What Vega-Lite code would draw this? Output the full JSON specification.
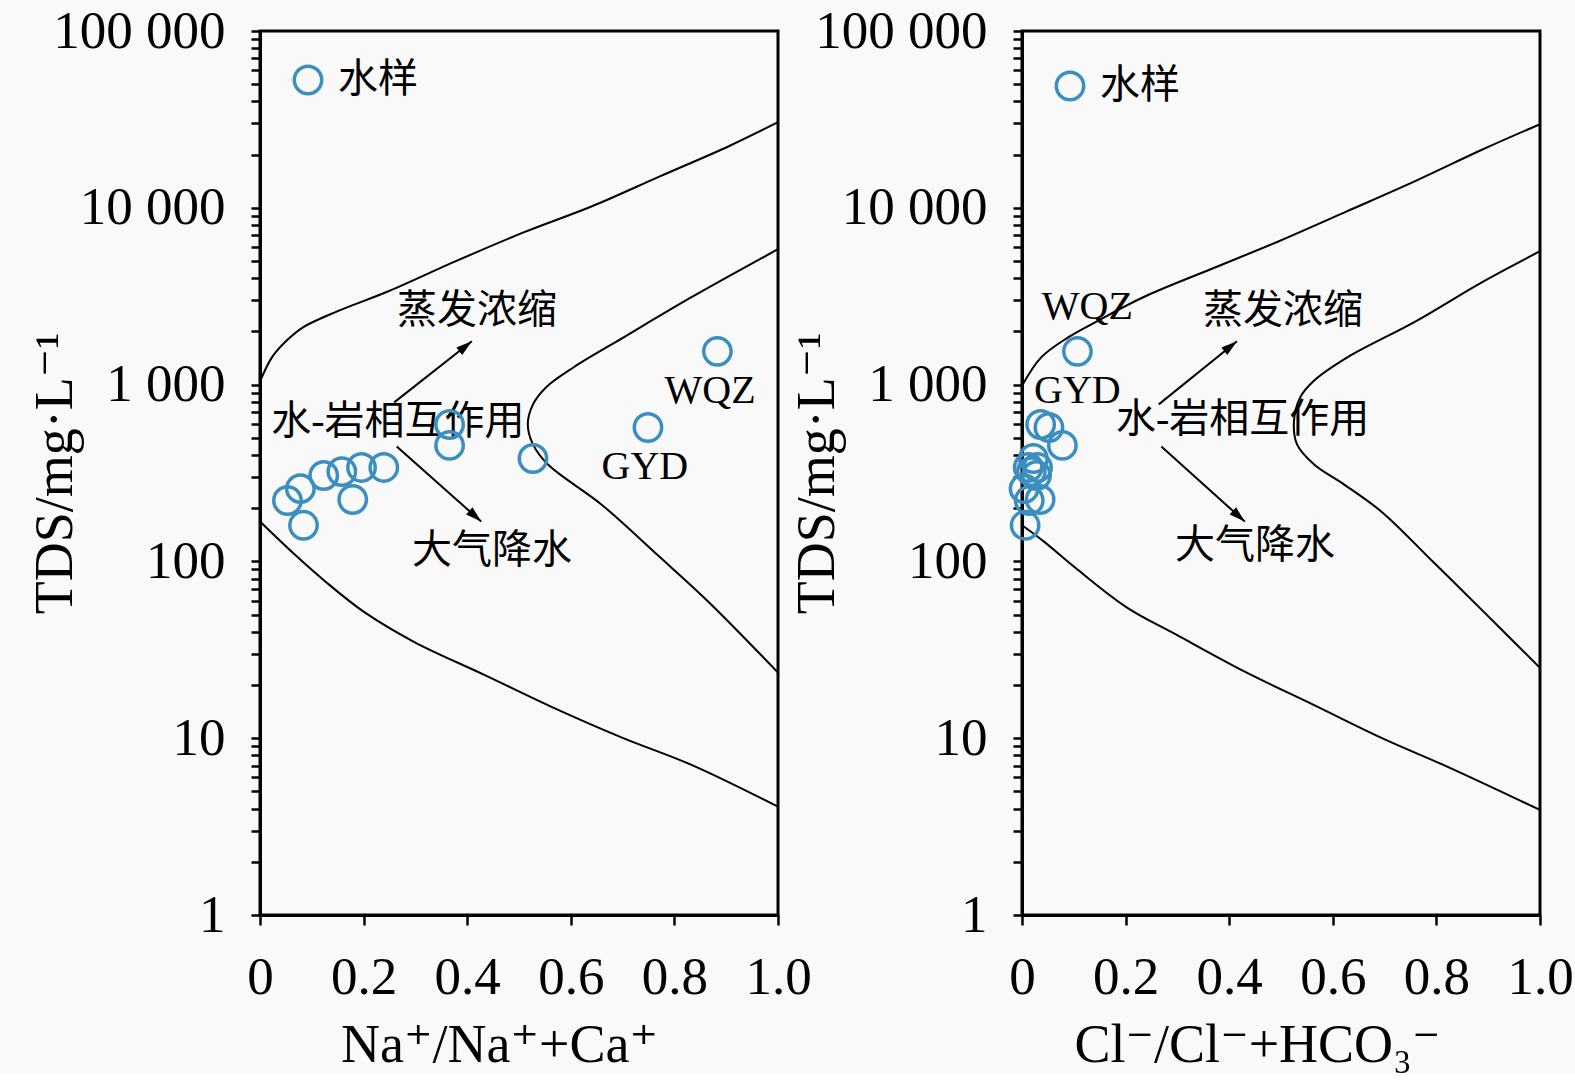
{
  "$schema": "https://vega.github.io/schema/vega-lite/v6.json",
  "background": "#f9f9f9",
  "padding": {"left": 26, "top": 3, "right": 0, "bottom": 0},
  "bounds": "flush",
  "spacing": 244,
  "config": {
    "view": {"stroke": "black", "strokeWidth": 3, "fill": null},
    "axis": {
      "grid": false,
      "domainColor": "black",
      "domainWidth": 3,
      "tickColor": "black",
      "tickWidth": 2.5,
      "labelColor": "black",
      "titleColor": "black",
      "labelFont": "Liberation Serif",
      "titleFont": "Liberation Serif, DejaVu Serif",
      "labelFontSize": 53,
      "titleFontSize": 54,
      "titleFontWeight": "normal",
      "labelOverlap": false,
      "labelFlush": false
    },
    "text": {"font": "Liberation Serif, Noto Sans CJK SC", "fontSize": 40, "color": "black"}
  },
  "datasets": {
    "samples": [
      {"panel": "na", "site": "S1", "x": 0.053, "tds": 221},
      {"panel": "na", "site": "S2", "x": 0.078, "tds": 258},
      {"panel": "na", "site": "S3", "x": 0.084, "tds": 160},
      {"panel": "na", "site": "S4", "x": 0.123, "tds": 306},
      {"panel": "na", "site": "S5", "x": 0.158, "tds": 322},
      {"panel": "na", "site": "S6", "x": 0.179, "tds": 224},
      {"panel": "na", "site": "S7", "x": 0.196, "tds": 340},
      {"panel": "na", "site": "S8", "x": 0.239, "tds": 340},
      {"panel": "na", "site": "S9", "x": 0.366, "tds": 595},
      {"panel": "na", "site": "S10", "x": 0.366, "tds": 453},
      {"panel": "na", "site": "S11", "x": 0.527, "tds": 382},
      {"panel": "na", "site": "GYD", "x": 0.749, "tds": 572},
      {"panel": "na", "site": "WQZ", "x": 0.883, "tds": 1542},
      {"panel": "cl", "site": "S1", "x": 0.014, "tds": 221},
      {"panel": "cl", "site": "S2", "x": 0.004, "tds": 258},
      {"panel": "cl", "site": "S3", "x": 0.006, "tds": 160},
      {"panel": "cl", "site": "S4", "x": 0.028, "tds": 306},
      {"panel": "cl", "site": "S5", "x": 0.018, "tds": 322},
      {"panel": "cl", "site": "S6", "x": 0.035, "tds": 224},
      {"panel": "cl", "site": "S7", "x": 0.030, "tds": 340},
      {"panel": "cl", "site": "S8", "x": 0.012, "tds": 340},
      {"panel": "cl", "site": "S9", "x": 0.036, "tds": 595},
      {"panel": "cl", "site": "S10", "x": 0.078, "tds": 453},
      {"panel": "cl", "site": "S11", "x": 0.022, "tds": 382},
      {"panel": "cl", "site": "GYD", "x": 0.052, "tds": 572},
      {"panel": "cl", "site": "WQZ", "x": 0.107, "tds": 1542}
    ],
    "curves": [
      {"panel": "na", "curve": "upper", "i": 0, "x": 0, "tds": 1042},
      {"panel": "na", "curve": "upper", "i": 1, "x": 0.023, "tds": 1426},
      {"panel": "na", "curve": "upper", "i": 2, "x": 0.05, "tds": 1758},
      {"panel": "na", "curve": "upper", "i": 3, "x": 0.083, "tds": 2108},
      {"panel": "na", "curve": "upper", "i": 4, "x": 0.149, "tds": 2596},
      {"panel": "na", "curve": "upper", "i": 5, "x": 0.248, "tds": 3373},
      {"panel": "na", "curve": "upper", "i": 6, "x": 0.378, "tds": 4990},
      {"panel": "na", "curve": "upper", "i": 7, "x": 0.51, "tds": 7280},
      {"panel": "na", "curve": "upper", "i": 8, "x": 0.641, "tds": 10200},
      {"panel": "na", "curve": "upper", "i": 9, "x": 0.773, "tds": 15100},
      {"panel": "na", "curve": "upper", "i": 10, "x": 0.905, "tds": 22300},
      {"panel": "na", "curve": "upper", "i": 11, "x": 1.0, "tds": 30500},
      {"panel": "na", "curve": "inner", "i": 0, "x": 1.0, "tds": 5830},
      {"panel": "na", "curve": "inner", "i": 1, "x": 0.833, "tds": 3120},
      {"panel": "na", "curve": "inner", "i": 2, "x": 0.702, "tds": 1850},
      {"panel": "na", "curve": "inner", "i": 3, "x": 0.605, "tds": 1250},
      {"panel": "na", "curve": "inner", "i": 4, "x": 0.552, "tds": 964},
      {"panel": "na", "curve": "inner", "i": 5, "x": 0.527, "tds": 773},
      {"panel": "na", "curve": "inner", "i": 6, "x": 0.517, "tds": 595},
      {"panel": "na", "curve": "inner", "i": 7, "x": 0.527, "tds": 459},
      {"panel": "na", "curve": "inner", "i": 8, "x": 0.556, "tds": 353},
      {"panel": "na", "curve": "inner", "i": 9, "x": 0.659, "tds": 210},
      {"panel": "na", "curve": "inner", "i": 10, "x": 0.767, "tds": 109},
      {"panel": "na", "curve": "inner", "i": 11, "x": 0.866, "tds": 59},
      {"panel": "na", "curve": "inner", "i": 12, "x": 1.0, "tds": 23.5},
      {"panel": "na", "curve": "lower", "i": 0, "x": 0, "tds": 168},
      {"panel": "na", "curve": "lower", "i": 1, "x": 0.066, "tds": 110},
      {"panel": "na", "curve": "lower", "i": 2, "x": 0.126, "tds": 77},
      {"panel": "na", "curve": "lower", "i": 3, "x": 0.2, "tds": 52},
      {"panel": "na", "curve": "lower", "i": 4, "x": 0.298, "tds": 35},
      {"panel": "na", "curve": "lower", "i": 5, "x": 0.432, "tds": 22.9},
      {"panel": "na", "curve": "lower", "i": 6, "x": 0.566, "tds": 14.9},
      {"panel": "na", "curve": "lower", "i": 7, "x": 0.7, "tds": 10.05},
      {"panel": "na", "curve": "lower", "i": 8, "x": 0.833, "tds": 7.07},
      {"panel": "na", "curve": "lower", "i": 9, "x": 1.0, "tds": 4.1},
      {"panel": "cl", "curve": "upper", "i": 0, "x": 0, "tds": 985},
      {"panel": "cl", "curve": "upper", "i": 1, "x": 0.037, "tds": 1426},
      {"panel": "cl", "curve": "upper", "i": 2, "x": 0.089, "tds": 1850},
      {"panel": "cl", "curve": "upper", "i": 3, "x": 0.141, "tds": 2250},
      {"panel": "cl", "curve": "upper", "i": 4, "x": 0.234, "tds": 3120},
      {"panel": "cl", "curve": "upper", "i": 5, "x": 0.364, "tds": 4490},
      {"panel": "cl", "curve": "upper", "i": 6, "x": 0.496, "tds": 6470},
      {"panel": "cl", "curve": "upper", "i": 7, "x": 0.628, "tds": 9570},
      {"panel": "cl", "curve": "upper", "i": 8, "x": 0.76, "tds": 14200},
      {"panel": "cl", "curve": "upper", "i": 9, "x": 0.891, "tds": 21500},
      {"panel": "cl", "curve": "upper", "i": 10, "x": 1.0, "tds": 29700},
      {"panel": "cl", "curve": "inner", "i": 0, "x": 1.0, "tds": 5680},
      {"panel": "cl", "curve": "inner", "i": 1, "x": 0.891, "tds": 3840},
      {"panel": "cl", "curve": "inner", "i": 2, "x": 0.76, "tds": 2280},
      {"panel": "cl", "curve": "inner", "i": 3, "x": 0.628, "tds": 1426},
      {"panel": "cl", "curve": "inner", "i": 4, "x": 0.562, "tds": 1042},
      {"panel": "cl", "curve": "inner", "i": 5, "x": 0.537, "tds": 847},
      {"panel": "cl", "curve": "inner", "i": 6, "x": 0.525, "tds": 619},
      {"panel": "cl", "curve": "inner", "i": 7, "x": 0.531, "tds": 459},
      {"panel": "cl", "curve": "inner", "i": 8, "x": 0.564, "tds": 353},
      {"panel": "cl", "curve": "inner", "i": 9, "x": 0.622, "tds": 272},
      {"panel": "cl", "curve": "inner", "i": 10, "x": 0.694, "tds": 191},
      {"panel": "cl", "curve": "inner", "i": 11, "x": 0.793, "tds": 99.8},
      {"panel": "cl", "curve": "inner", "i": 12, "x": 0.891, "tds": 52},
      {"panel": "cl", "curve": "inner", "i": 13, "x": 1.0, "tds": 25},
      {"panel": "cl", "curve": "lower", "i": 0, "x": 0, "tds": 160},
      {"panel": "cl", "curve": "lower", "i": 1, "x": 0.043, "tds": 129},
      {"panel": "cl", "curve": "lower", "i": 2, "x": 0.103, "tds": 92},
      {"panel": "cl", "curve": "lower", "i": 3, "x": 0.202, "tds": 55},
      {"panel": "cl", "curve": "lower", "i": 4, "x": 0.298, "tds": 38.5},
      {"panel": "cl", "curve": "lower", "i": 5, "x": 0.43, "tds": 23.8},
      {"panel": "cl", "curve": "lower", "i": 6, "x": 0.562, "tds": 15.5},
      {"panel": "cl", "curve": "lower", "i": 7, "x": 0.694, "tds": 10.05},
      {"panel": "cl", "curve": "lower", "i": 8, "x": 0.826, "tds": 6.8},
      {"panel": "cl", "curve": "lower", "i": 9, "x": 1.0, "tds": 3.93}
    ],
    "arrows": [
      {"panel": "na", "arrow": "evap", "i": 0, "x": 0.259, "tds": 793},
      {"panel": "na", "arrow": "evap", "i": 1, "x": 0.409, "tds": 1757},
      {"panel": "na", "arrow": "rain", "i": 0, "x": 0.264, "tds": 447},
      {"panel": "na", "arrow": "rain", "i": 1, "x": 0.427, "tds": 168},
      {"panel": "cl", "arrow": "evap", "i": 0, "x": 0.264, "tds": 773},
      {"panel": "cl", "arrow": "evap", "i": 1, "x": 0.415, "tds": 1757},
      {"panel": "cl", "arrow": "rain", "i": 0, "x": 0.269, "tds": 447},
      {"panel": "cl", "arrow": "rain", "i": 1, "x": 0.43, "tds": 168}
    ],
    "notes": [
      {"panel": "na", "text": "蒸发浓缩", "x": 0.419, "tds": 2596},
      {"panel": "na", "text": "水-岩相互作用", "x": 0.266, "tds": 611},
      {"panel": "na", "text": "大气降水", "x": 0.448, "tds": 114},
      {"panel": "na", "text": "WQZ", "x": 0.869, "tds": 915},
      {"panel": "na", "text": "GYD", "x": 0.743, "tds": 344},
      {"panel": "cl", "text": "WQZ", "x": 0.126, "tds": 2736},
      {"panel": "cl", "text": "GYD", "x": 0.107, "tds": 915},
      {"panel": "cl", "text": "蒸发浓缩", "x": 0.504, "tds": 2596},
      {"panel": "cl", "text": "水-岩相互作用", "x": 0.426, "tds": 627},
      {"panel": "cl", "text": "大气降水", "x": 0.45, "tds": 123}
    ]
  },
  "resolve": {"scale": {"color": "independent"}, "legend": {"color": "independent"}},
  "hconcat": [
    {
      "width": 518,
      "height": 884,
      "encoding": {
        "x": {
          "field": "x",
          "type": "quantitative",
          "scale": {"domain": [0, 1], "nice": false, "zero": false},
          "axis": {
            "title": "Na⁺/Na⁺+Ca⁺",
            "values": [0, 0.2, 0.4, 0.6, 0.8, 1],
            "labelExpr": "datum.value == 0 ? '0' : format(datum.value, '.1f')",
            "tickSize": 10,
            "labelPadding": 26,
            "titleX": 239,
            "titleY": 130,
            "titleAlign": "center",
            "titleBaseline": "middle"
          }
        },
        "y": {
          "field": "tds",
          "type": "quantitative",
          "scale": {"type": "log", "domain": [1, 100000], "nice": false},
          "axis": {
            "title": "TDS/mg·L⁻¹",
            "values": [1, 2, 3, 4, 5, 6, 7, 8, 9, 10, 20, 30, 40, 50, 60, 70, 80, 90, 100, 200, 300, 400, 500, 600, 700, 800, 900, 1000, 2000, 3000, 4000, 5000, 6000, 7000, 8000, 9000, 10000, 20000, 30000, 40000, 50000, 60000, 70000, 80000, 90000, 100000],
            "labelExpr": "datum.value == 100000 ? '100 000' : datum.value == 10000 ? '10 000' : datum.value == 1000 ? '1 000' : datum.value == 100 ? '100' : datum.value == 10 ? '10' : datum.value == 1 ? '1' : ''",
            "tickSize": 9,
            "labelPadding": 26,
            "titleX": -205,
            "titleY": 442,
            "titleAngle": 270,
            "titleAlign": "center",
            "titleBaseline": "middle"
          }
        }
      },
      "layer": [
        {
          "data": {"name": "curves"},
          "transform": [{"filter": "datum.panel == 'na'"}],
          "mark": {"type": "line", "color": "black", "strokeWidth": 2, "interpolate": "catmull-rom"},
          "encoding": {"detail": {"field": "curve"}, "order": {"field": "i"}}
        },
        {
          "data": {"name": "arrows"},
          "transform": [{"filter": "datum.panel == 'na'"}],
          "mark": {"type": "line", "color": "black", "strokeWidth": 2},
          "encoding": {"detail": {"field": "arrow"}, "order": {"field": "i"}}
        },
        {
          "data": {"name": "arrows"},
          "transform": [{"filter": "datum.panel == 'na' && datum.arrow == 'evap' && datum.i == 1"}],
          "mark": {"type": "point", "shape": "M0,0L0.6,2L-0.6,2Z", "angle": 52, "size": 256, "filled": true, "color": "black", "opacity": 1}
        },
        {
          "data": {"name": "arrows"},
          "transform": [{"filter": "datum.panel == 'na' && datum.arrow == 'rain' && datum.i == 1"}],
          "mark": {"type": "point", "shape": "M0,0L0.6,2L-0.6,2Z", "angle": 132, "size": 256, "filled": true, "color": "black", "opacity": 1}
        },
        {
          "data": {"name": "notes"},
          "transform": [{"filter": "datum.panel == 'na'"}],
          "mark": {"type": "text", "align": "center", "baseline": "middle"},
          "encoding": {"text": {"field": "text"}}
        },
        {
          "data": {"name": "samples"},
          "transform": [{"filter": "datum.panel == 'na'"}],
          "mark": {"type": "point", "shape": "circle", "filled": false, "size": 750, "strokeWidth": 3.5, "opacity": 1},
          "encoding": {
            "color": {
              "datum": "水样",
              "type": "nominal",
              "scale": {"range": ["#3b8fc0"]},
              "legend": {
                "title": null,
                "orient": "none",
                "legendX": 28,
                "legendY": 29,
                "labelFont": "Noto Sans CJK SC",
                "labelFontSize": 40,
                "labelColor": "black",
                "symbolSize": 750,
                "symbolStrokeWidth": 3.5,
                "symbolType": "circle",
                "labelOffset": 10
              }
            }
          }
        }
      ]
    },
    {
      "width": 518,
      "height": 884,
      "encoding": {
        "x": {
          "field": "x",
          "type": "quantitative",
          "scale": {"domain": [0, 1], "nice": false, "zero": false},
          "axis": {
            "title": "Cl⁻/Cl⁻+HCO₃⁻",
            "values": [0, 0.2, 0.4, 0.6, 0.8, 1],
            "labelExpr": "datum.value == 0 ? '0' : format(datum.value, '.1f')",
            "tickSize": 10,
            "labelPadding": 26,
            "titleX": 235,
            "titleY": 130,
            "titleAlign": "center",
            "titleBaseline": "middle"
          }
        },
        "y": {
          "field": "tds",
          "type": "quantitative",
          "scale": {"type": "log", "domain": [1, 100000], "nice": false},
          "axis": {
            "title": "TDS/mg·L⁻¹",
            "values": [1, 2, 3, 4, 5, 6, 7, 8, 9, 10, 20, 30, 40, 50, 60, 70, 80, 90, 100, 200, 300, 400, 500, 600, 700, 800, 900, 1000, 2000, 3000, 4000, 5000, 6000, 7000, 8000, 9000, 10000, 20000, 30000, 40000, 50000, 60000, 70000, 80000, 90000, 100000],
            "labelExpr": "datum.value == 100000 ? '100 000' : datum.value == 10000 ? '10 000' : datum.value == 1000 ? '1 000' : datum.value == 100 ? '100' : datum.value == 10 ? '10' : datum.value == 1 ? '1' : ''",
            "tickSize": 9,
            "labelPadding": 26,
            "titleX": -205,
            "titleY": 442,
            "titleAngle": 270,
            "titleAlign": "center",
            "titleBaseline": "middle"
          }
        }
      },
      "layer": [
        {
          "data": {"name": "curves"},
          "transform": [{"filter": "datum.panel == 'cl'"}],
          "mark": {"type": "line", "color": "black", "strokeWidth": 2, "interpolate": "catmull-rom"},
          "encoding": {"detail": {"field": "curve"}, "order": {"field": "i"}}
        },
        {
          "data": {"name": "arrows"},
          "transform": [{"filter": "datum.panel == 'cl'"}],
          "mark": {"type": "line", "color": "black", "strokeWidth": 2},
          "encoding": {"detail": {"field": "arrow"}, "order": {"field": "i"}}
        },
        {
          "data": {"name": "arrows"},
          "transform": [{"filter": "datum.panel == 'cl' && datum.arrow == 'evap' && datum.i == 1"}],
          "mark": {"type": "point", "shape": "M0,0L0.6,2L-0.6,2Z", "angle": 52, "size": 256, "filled": true, "color": "black", "opacity": 1}
        },
        {
          "data": {"name": "arrows"},
          "transform": [{"filter": "datum.panel == 'cl' && datum.arrow == 'rain' && datum.i == 1"}],
          "mark": {"type": "point", "shape": "M0,0L0.6,2L-0.6,2Z", "angle": 132, "size": 256, "filled": true, "color": "black", "opacity": 1}
        },
        {
          "data": {"name": "notes"},
          "transform": [{"filter": "datum.panel == 'cl'"}],
          "mark": {"type": "text", "align": "center", "baseline": "middle"},
          "encoding": {"text": {"field": "text"}}
        },
        {
          "data": {"name": "samples"},
          "transform": [{"filter": "datum.panel == 'cl'"}],
          "mark": {"type": "point", "shape": "circle", "filled": false, "size": 750, "strokeWidth": 3.5, "opacity": 1},
          "encoding": {
            "color": {
              "datum": "水样",
              "type": "nominal",
              "scale": {"range": ["#3b8fc0"]},
              "legend": {
                "title": null,
                "orient": "none",
                "legendX": 28,
                "legendY": 35,
                "labelFont": "Noto Sans CJK SC",
                "labelFontSize": 40,
                "labelColor": "black",
                "symbolSize": 750,
                "symbolStrokeWidth": 3.5,
                "symbolType": "circle",
                "labelOffset": 10
              }
            }
          }
        }
      ]
    }
  ]
}
